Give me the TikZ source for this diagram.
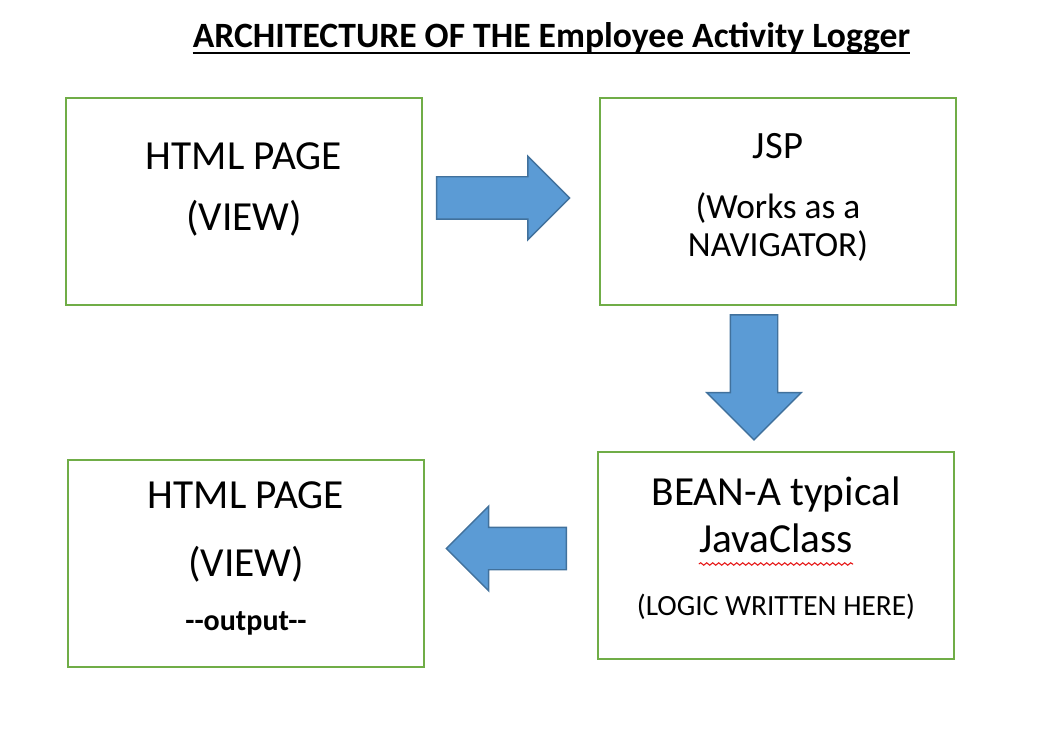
\documentclass[tikz,border=0pt]{standalone}
\usepackage{fontspec}
\setmainfont{Carlito}
\usepackage{xcolor}
\usepackage{tikz}
\usetikzlibrary{shapes.arrows, decorations.pathmorphing, positioning}
\definecolor{boxvert}{RGB}{112,173,71}
\definecolor{flechebleu}{RGB}{91,155,213}
\definecolor{flechebord}{RGB}{65,113,156}
\definecolor{fauterouge}{RGB}{230,20,20}

\begin{document}
\begin{tikzpicture}[x=0.75pt, y=-0.75pt,
    box/.style={draw=boxvert, line width=1.5pt, minimum width=267pt, minimum height=155.25pt, inner sep=0pt},
    txt/.style={anchor=base, inner sep=0pt},
    flech/.style={single arrow, fill=flechebleu, draw=flechebord, line width=1.1pt, inner xsep=0pt}]
    \useasboundingbox (0,0) rectangle (1038,748);

    % Titre
    \node[txt] (titre) at (551.5,48) {\fontsize{26.7}{32}\selectfont\bfseries ARCHITECTURE OF THE Employee Activity Logger};
    \draw[line width=1.4pt] ([yshift=-3.75pt]titre.base west) -- ([yshift=-3.75pt]titre.base east);

    % Boites
    \node[box] (vue) at (244,201.5) {};
    \node[box] (jsp) at (778,201.5) {};
    \node[box] (bean) at (776,555.5) {};
    \node[box] (sortie) at (246,563.5) {};

    \node[txt] (vue1) at (244,170) {\fontsize{31}{37}\selectfont HTML PAGE};
    \node[txt] (vue2) at (244,231) {\fontsize{31}{37}\selectfont (VIEW)};

    \node[txt] (jsp1) at (778,159) {\fontsize{29}{35}\selectfont JSP};
    \node[txt] (jsp2) at (778,219) {\fontsize{26.5}{32}\selectfont (Works as a};
    \node[txt] (jsp3) at (778,257) {\fontsize{26.5}{32}\selectfont NAVIGATOR)};

    \node[txt] (bean1) at (776,505) {\fontsize{31}{37}\selectfont BEAN-A typical};
    \node[txt] (bean2) at (776,552) {\fontsize{31}{37}\selectfont JavaClass};
    \node[txt] (bean3) at (776,615) {\fontsize{22}{27}\selectfont (LOGIC WRITTEN HERE)};
    \draw[fauterouge, line width=0.8pt, decorate, decoration={snake, amplitude=0.9pt, segment length=4.5pt}]
        ([yshift=-9pt]bean2.base west) -- ([yshift=-9pt]bean2.base east);

    \node[txt] (sortie1) at (246,508) {\fontsize{31}{37}\selectfont HTML PAGE};
    \node[txt] (sortie2) at (246,576) {\fontsize{31}{37}\selectfont (VIEW)};
    \node[txt] (sortie3) at (246,630) {\fontsize{22.5}{27}\selectfont\bfseries -{}-output-{}-};

    % Fleches
    \node[flech, inner ysep=15.375pt, minimum height=99.75pt, minimum width=61.5pt,
        single arrow head extend=15.375pt] (f1) at (492.5,198) {};
    \node[flech, rotate=270, inner ysep=17.25pt, minimum height=93.75pt, minimum width=69.75pt,
        single arrow head extend=17.6pt] (f2) at (754,365.5) {};
    \node[flech, rotate=180, inner ysep=15.375pt, minimum height=90pt, minimum width=62.25pt,
        single arrow head extend=15.75pt] (f3) at (517,548.5) {};
\end{tikzpicture}
\end{document}
